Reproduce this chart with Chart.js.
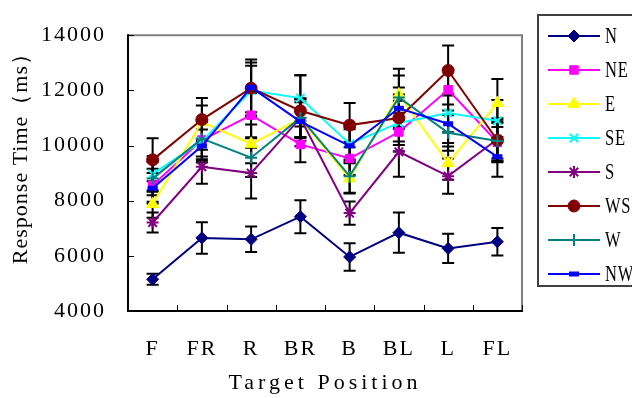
<!DOCTYPE html>
<html>
<head>
<meta charset="utf-8">
<script src="https://cdn.jsdelivr.net/npm/chart.js@4/dist/chart.umd.min.js"></script>
<style>
html,body{margin:0;padding:0;background:#fff;}
#wrap{width:632px;height:398px;position:relative;}
</style>
</head>
<body>
<div id="wrap"><canvas id="c" width="632" height="398"></canvas></div>
<script>
const categories = ["F", "FR", "R", "BR", "B", "BL", "L", "FL"];
const seriesNames = ["N", "NE", "E", "SE", "S", "WS", "W", "NW"];

const N  = [5150, 6650, 6600, 7420, 5960, 6840, 6270, 6510];
const NE = [8560, 10200, 11100, 10040, 9530, 10490, 12020, 10120];
const E  = [7880, 10850, 10060, 10970, 8810, 11850, 9360, 11540];
const SE = [8970, 10150, 11990, 11720, 10060, 10820, 11180, 10900];
const S  = [7210, 9230, 9000, 11000, 7550, 9770, 8890, 10230];
const WS = [9480, 10940, 12080, 11260, 10740, 11000, 12720, 10190];
const W  = [8800, 10250, 9560, 11010, 8890, 11740, 10460, 10160];
const NW = [8450, 9980, 12110, 10870, 9990, 11350, 10790, 9590];

const errN  = [200, 570, 460, 600, 500, 730, 530, 500];
const errNE = [600, 700, 800, 650, 600, 700, 750, 700];
const errE  = [500, 600, 700, 700, 550, 930, 600, 870];
const errSE = [650, 700, 900, 830, 600, 800, 700, 750];
const errS  = [360, 620, 920, 700, 420, 900, 640, 700];
const errWS = [780, 780, 1040, 1290, 800, 850, 910, 800];
const errW  = [600, 650, 700, 700, 600, 800, 650, 700];
const errNW = [550, 600, 900, 700, 600, 750, 700, 720];

const yTicks = [4000, 6000, 8000, 10000, 12000, 14000];

const values = [N, NE, E, SE, S, WS, W, NW];
const errors = [errN, errNE, errE, errSE, errS, errWS, errW, errNW];
const colors = ["#000080", "#FF00FF", "#FFFF00", "#00FFFF", "#800080", "#800000", "#008080", "#0000FF"];
const styles = ["rectRot", "rect", "triangle", "crossRot", "star", "circle", "cross", "line"];
const radii  = [6, 6, 7, 6, 6, 6, 6, 5];
const pbw    = [1, 1, 1, 2, 2, 1, 2, 5];

const FONT = "'Liberation Serif', 'DejaVu Serif', serif";
const SPACING = '2px';

const datasets = seriesNames.map((name, i) => ({
  label: name,
  data: values[i],
  errors: errors[i],
  borderColor: colors[i],
  backgroundColor: colors[i],
  pointBackgroundColor: colors[i],
  pointBorderColor: colors[i],
  pointStyle: styles[i],
  pointRadius: radii[i],
  pointBorderWidth: pbw[i],
  borderWidth: 2,
  tension: 0,
  fill: false,
  order: 7 - i
}));

const spacingPlugin = {
  id: 'spacing',
  beforeInit(chart) { chart.ctx.letterSpacing = SPACING; },
  beforeLayout(chart) { chart.ctx.letterSpacing = SPACING; },
  beforeDraw(chart) { chart.ctx.letterSpacing = SPACING; }
};

function patchTitle(scale, spacing, dy) {
  if (scale._patchedTitle) return;
  scale._patchedTitle = true;
  const orig = scale.drawTitle;
  scale.drawTitle = function () {
    const ctx = this.ctx;
    ctx.save();
    ctx.letterSpacing = spacing;
    ctx.translate(0, dy);
    orig.apply(this, arguments);
    ctx.restore();
  };
}

const errorBarPlugin = {
  id: 'errorBars',
  beforeDatasetsDraw(chart) {
    const ctx = chart.ctx;
    const ys = chart.scales.y;
    ctx.save();
    ctx.strokeStyle = '#000';
    ctx.lineWidth = 2;
    chart.data.datasets.forEach((ds, di) => {
      const meta = chart.getDatasetMeta(di);
      meta.data.forEach((pt, j) => {
        const v = ds.data[j], e = ds.errors[j];
        const x = pt.x;
        const yt = ys.getPixelForValue(v + e);
        const yb = ys.getPixelForValue(v - e);
        ctx.beginPath();
        ctx.moveTo(x, yt); ctx.lineTo(x, yb);
        ctx.moveTo(x - 6, yt); ctx.lineTo(x + 6, yt);
        ctx.moveTo(x - 6, yb); ctx.lineTo(x + 6, yb);
        ctx.stroke();
      });
    });
    ctx.restore();
  }
};

const framePlugin = {
  id: 'frame',
  afterDraw(chart) {
    const ctx = chart.ctx;
    const a = chart.chartArea;
    const xs = chart.scales.x, ys = chart.scales.y;
    ctx.save();
    ctx.strokeStyle = '#808080';
    ctx.lineWidth = 2;
    ctx.beginPath();
    ctx.moveTo(a.left, a.top); ctx.lineTo(a.right, a.top); ctx.lineTo(a.right, a.bottom);
    ctx.stroke();
    ctx.strokeStyle = '#000';
    ctx.beginPath();
    ctx.moveTo(a.left, a.top - 1); ctx.lineTo(a.left, a.bottom); ctx.lineTo(a.right + 1, a.bottom);
    ctx.stroke();
    ctx.lineWidth = 1;
    ctx.beginPath();
    yTicks.forEach(t => {
      const y = Math.round(ys.getPixelForValue(t)) + 0.5;
      ctx.moveTo(a.left, y); ctx.lineTo(a.left + 6, y);
    });
    for (let i = 0; i <= categories.length; i++) {
      let x;
      if (i === 0) x = a.left;
      else if (i === categories.length) x = a.right;
      else x = (xs.getPixelForValue(i - 1) + xs.getPixelForValue(i)) / 2;
      x = Math.round(x) + 0.5;
      ctx.moveTo(x, a.bottom); ctx.lineTo(x, a.bottom - 6);
    }
    ctx.stroke();
    ctx.restore();
  }
};

const legendPlugin = {
  id: 'customLegend',
  afterDraw(chart) {
    const ctx = chart.ctx;
    ctx.save();
    ctx.strokeStyle = '#404040';
    ctx.lineWidth = 2;
    ctx.strokeRect(538, 15, 110, 271);
    chart.data.datasets.forEach((ds, i) => {
      const y = 36 + i * 34;
      ctx.strokeStyle = ds.borderColor;
      ctx.lineWidth = 2;
      ctx.beginPath();
      ctx.moveTo(548, y); ctx.lineTo(600, y);
      ctx.stroke();
      ctx.fillStyle = ds.pointBackgroundColor;
      ctx.strokeStyle = ds.pointBorderColor;
      ctx.lineWidth = ds.pointBorderWidth;
      Chart.helpers.drawPoint(ctx, {pointStyle: ds.pointStyle, radius: ds.pointRadius, rotation: 0, borderWidth: ds.pointBorderWidth}, 574, y);
      ctx.save();
      ctx.fillStyle = '#000';
      ctx.font = "23px " + FONT;
      ctx.letterSpacing = '1px';
      ctx.textBaseline = 'middle';
      ctx.textAlign = 'left';
      ctx.translate(605, y + 1);
      ctx.scale(0.72, 1);
      ctx.fillText(ds.label, 0, 0);
      ctx.restore();
    });
    ctx.restore();
  }
};

new Chart(document.getElementById('c'), {
  type: 'line',
  data: { labels: categories, datasets },
  options: {
    responsive: false,
    animation: false,
    events: [],
    layout: { padding: { top: 13, right: 110, left: 0, bottom: 0 } },
    plugins: { legend: { display: false }, tooltip: { enabled: false } },
    scales: {
      x: {
        type: 'category',
        offset: true,
        grid: { display: false, drawTicks: false },
        border: { display: false },
        ticks: { color: '#000', font: { family: FONT, size: 22 }, padding: 25, maxRotation: 0 },
        title: { display: true, text: 'Target Position', color: '#000', font: { family: FONT, size: 22 }, padding: { top: 0, bottom: 2 } },
        afterFit(s) { s.height = 87; patchTitle(s, '4px', 0); }
      },
      y: {
        min: 4000, max: 14000,
        grid: { display: false, drawTicks: false },
        border: { display: false },
        afterBuildTicks(s) { s.ticks = yTicks.map(v => ({ value: v })); },
        ticks: { color: '#000', font: { family: FONT, size: 22 }, padding: 22, callback: v => String(v) },
        title: { display: true, text: 'Response Time（ms）', color: '#000', font: { family: FONT, size: 22 }, padding: { top: 8, bottom: 0 } },
        afterFit(s) { s.width = 128; patchTitle(s, '1px', -20); }
      }
    }
  },
  plugins: [spacingPlugin, errorBarPlugin, framePlugin, legendPlugin]
});
</script>
</body>
</html>
